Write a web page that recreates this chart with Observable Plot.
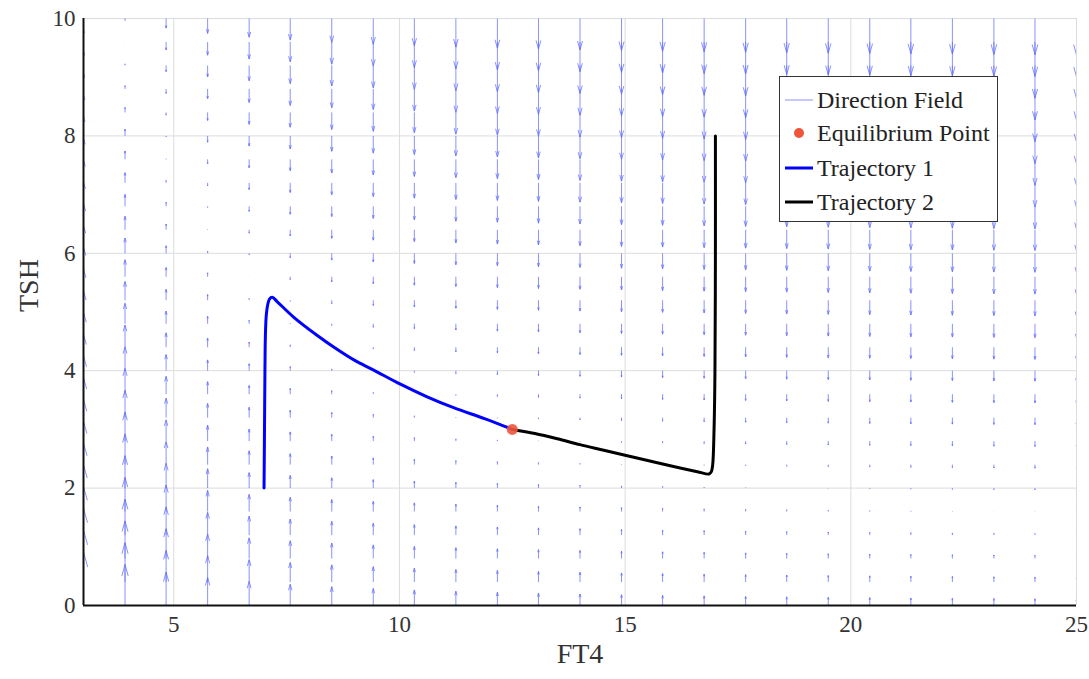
<!DOCTYPE html>
<html>
<head>
<meta charset="utf-8">
<script src="https://cdn.jsdelivr.net/npm/d3@7"></script>
<script src="https://cdn.jsdelivr.net/npm/@observablehq/plot@0.6"></script>
<style>
  html, body { margin: 0; padding: 0; background: #fff; }
  #wrap { position: relative; width: 1089px; height: 679px; font-family: "Liberation Serif", "Times New Roman", serif; }
  #legend { position: absolute; left: 779px; top: 76px; width: 217px; height: 144px; border: 1px solid #333; background: #fff; }
  .row { position: absolute; left: 0; height: 30px; display: flex; align-items: center; font-size: 24px; color: #222; white-space: nowrap; }
  .sw { width: 28px; margin-left: 5px; margin-right: 4px; display: flex; align-items: center; justify-content: center; }
</style>
</head>
<body>
<div id="wrap">
  <div id="chart"></div>
  <div id="legend"></div>
</div>
<script>
// Direction field grid (FT4 columns, TSH rows)
const ft4Grid = [3, 3.92, 4.83, 5.75, 6.67, 7.58, 8.5, 9.42, 10.33, 11.25, 12.17, 13.08, 14, 14.92, 15.83, 16.75, 17.67, 18.58, 19.5, 20.42, 21.33, 22.25, 23.17, 24.08, 25];
const tshGrid = [0, 0.4, 0.8, 1.2, 1.6, 2, 2.4, 2.8, 3.2, 3.6, 4, 4.4, 4.8, 5.2, 5.6, 6, 6.4, 6.8, 7.2, 7.6, 8, 8.4, 8.8, 9.2, 9.6, 10];
// TSH level where the field vanishes in each column
const tshNull = [12.5, 9.57, 7.76, 6.52, 5.62, 4.95, 4.41, 3.98, 3.63, 3.33, 3.08, 2.87, 2.68, 2.51, 2.37, 2.24, 2.12, 2.02, 1.92, 1.84, 1.76, 1.69, 1.62, 1.56, 1.5];
const fieldGain = 0.073;

// Trajectories
const traj1FT4 = [7.0, 7.01, 7.02, 7.03, 7.05, 7.08, 7.12, 7.18, 7.3, 7.66, 8.18, 8.55, 9.0, 9.43, 10.02, 10.6, 11.2, 11.9, 12.5];
const traj1TSH = [2.0, 3.0, 4.0, 4.6, 4.95, 5.12, 5.22, 5.25, 5.17, 4.91, 4.6, 4.4, 4.18, 4.01, 3.77, 3.56, 3.37, 3.18, 3.0];
const traj2FT4 = [17.0, 17.0, 16.99, 16.97, 16.94, 16.91, 16.86, 16.6, 16.0, 15.5, 15.0, 14.5, 14.0, 13.5, 13.0, 12.5];
const traj2TSH = [8.0, 6.0, 4.0, 3.0, 2.4, 2.28, 2.24, 2.28, 2.38, 2.47, 2.56, 2.65, 2.74, 2.84, 2.93, 3.0];
const eqFT4 = [12.5];
const eqTSH = [3.0];

const xTicks = [5, 10, 15, 20, 25];
const yTicks = [0, 2, 4, 6, 8, 10];

// Build quiver segments (shaft + two barbs), plotly-style
const segs = [];
const ang = Math.PI / 9, headFrac = 0.3;
ft4Grid.forEach((x, i) => {
  tshGrid.forEach(y => {
    const v = fieldGain * (tshNull[i] - y);
    const ye = y + v;
    segs.push({x1: x, y1: y, x2: x, y2: ye});
    const bl = headFrac * Math.abs(v);
    const s = Math.sign(v) || 1;
    segs.push({x1: x, y1: ye, x2: x - bl * Math.sin(ang), y2: ye - s * bl * Math.cos(ang)});
    segs.push({x1: x, y1: ye, x2: x + bl * Math.sin(ang), y2: ye - s * bl * Math.cos(ang)});
  });
});

const t1 = traj1FT4.map((x, i) => ({x, y: traj1TSH[i]}));
const t2 = traj2FT4.map((x, i) => ({x, y: traj2TSH[i]}));
const eq = eqFT4.map((x, i) => ({x, y: eqTSH[i]}));

const fieldColor = "#636efa";
const font = "'Liberation Serif', 'Times New Roman', serif";

const chart = Plot.plot({
  width: 1089,
  height: 679,
  marginLeft: 83,
  marginRight: 13,
  marginTop: 18,
  marginBottom: 74,
  x: {domain: [3, 25]},
  y: {domain: [0, 10]},
  style: {fontFamily: font, background: "white", color: "#444"},
  marks: [
    Plot.gridX(xTicks, {stroke: "#dcdcdc", strokeOpacity: 1, strokeWidth: 1}),
    Plot.gridY(yTicks.filter(d => d > 0), {stroke: "#dcdcdc", strokeOpacity: 1, strokeWidth: 1}),
    Plot.link(segs, {x1: "x1", y1: "y1", x2: "x2", y2: "y2", stroke: fieldColor, strokeOpacity: 0.75, strokeWidth: 1, clip: true}),
    Plot.ruleX([3], {stroke: "#111", strokeWidth: 2}),
    Plot.ruleY([0], {stroke: "#111", strokeWidth: 2}),
    Plot.line(t1, {x: "x", y: "y", stroke: "blue", strokeWidth: 3, curve: "catmull-rom"}),
    Plot.line(t2, {x: "x", y: "y", stroke: "black", strokeWidth: 3, curve: "catmull-rom"}),
    Plot.dot(eq, {x: "x", y: "y", r: 5.5, fill: "#EF553B", fillOpacity: 0.9}),
    Plot.axisX(xTicks, {tickSize: 0, tickPadding: 10, fontSize: 23, label: null, fill: "#333", tickFormat: d => String(d)}),
    Plot.axisY(yTicks, {tickSize: 0, tickPadding: 8, fontSize: 23, label: null, fill: "#333", tickFormat: d => String(d)}),
    Plot.text(["FT4"], {frameAnchor: "bottom", dy: 57, fontSize: 28, fill: "#333"}),
    Plot.text(["TSH"], {frameAnchor: "left", dx: -54, rotate: -90, fontSize: 28, fill: "#333"})
  ]
});
document.getElementById("chart").appendChild(chart);

// Legend
const legendItems = [
  {label: "Direction Field", kind: "line", color: fieldColor, w: 1, op: 0.75},
  {label: "Equilibrium Point", kind: "dot", color: "#EF553B"},
  {label: "Trajectory 1", kind: "line", color: "blue", w: 3, op: 1},
  {label: "Trajectory 2", kind: "line", color: "black", w: 3, op: 1}
];
const lg = document.getElementById("legend");
const rowTops = [8, 41, 76, 110];
legendItems.forEach((it, i) => {
  const row = document.createElement("div");
  row.className = "row";
  row.style.top = rowTops[i] + "px";
  const sw = document.createElement("span");
  sw.className = "sw";
  if (it.kind === "line") {
    sw.innerHTML = `<svg width="28" height="10"><line x1="0" x2="28" y1="5" y2="5" stroke="${it.color}" stroke-width="${it.w}" stroke-opacity="${it.op}"/></svg>`;
  } else {
    sw.innerHTML = `<svg width="28" height="12"><circle cx="14" cy="6" r="5" fill="${it.color}"/></svg>`;
  }
  row.appendChild(sw);
  const tx = document.createElement("span");
  tx.textContent = it.label;
  row.appendChild(tx);
  lg.appendChild(row);
});
</script>
</body>
</html>
